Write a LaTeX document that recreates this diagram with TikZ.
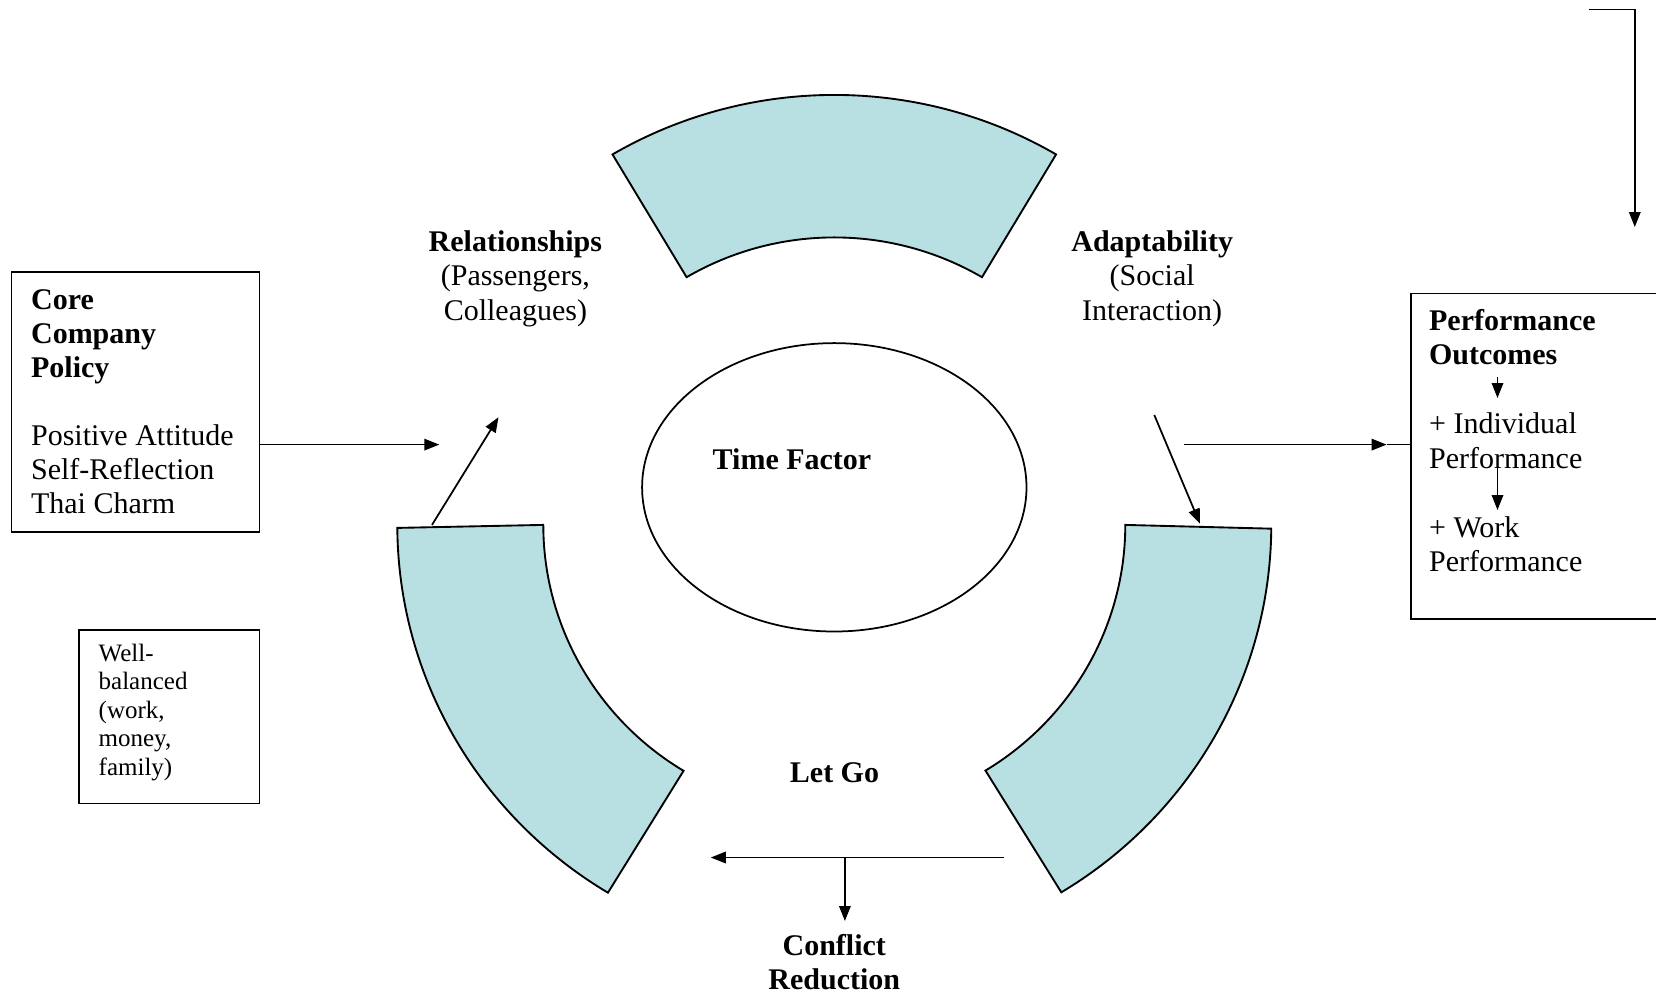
\documentclass[tikz,border=0pt]{standalone}
\usepackage{fontspec}
\setmainfont{Liberation Serif}
\usetikzlibrary{arrows.meta,calc}
\definecolor{segfill}{RGB}{184,223,226}
\begin{document}
\begin{tikzpicture}[x=0.4pt,y=-0.4pt,
  seg/.style={draw=black, line width=0.75pt, fill=segfill},
  box/.style={draw=black, line width=0.7pt, inner sep=0pt},
  conn/.style={line width=0.7pt, -{Triangle[length=6pt,width=4.6pt]}},
  plain/.style={line width=0.7pt},
  txt/.style={inner sep=0pt, font=\fontsize{12}{13.8}\selectfont},
  coretxtstyle/.style={inner sep=0pt, font=\fontsize{12}{13.6}\selectfont},
  small/.style={inner sep=0pt, font=\fontsize{10}{11.4}\selectfont},
]
\useasboundingbox (0,0) rectangle (1656,996);
\fill[white] (0,0) rectangle (1656,996);

% ring segments (slightly elliptical block arcs)
\coordinate (C) at (834.3,524.9);
\draw[seg] ($(C)+(239.5:437 and 430)$) arc[start angle=239.5,end angle=300.5,x radius=437,y radius=430]
  -- ($(C)+(300.5:291 and 287.5)$) arc[start angle=300.5,end angle=239.5,x radius=291,y radius=287.5] -- cycle;
\draw[seg] ($(C)+(0.5:437 and 430)$) arc[start angle=0.5,end angle=58.7,x radius=437,y radius=430]
  -- ($(C)+(58.7:291 and 287.5)$) arc[start angle=58.7,end angle=0,x radius=291,y radius=287.5] -- cycle;
\draw[seg] ($(C)+(121.2:437 and 430)$) arc[start angle=121.2,end angle=179.6,x radius=437,y radius=430]
  -- ($(C)+(180:291 and 287.5)$) arc[start angle=180,end angle=121.2,x radius=291,y radius=287.5] -- cycle;

% central ellipse
\draw[line width=0.7pt] (834.3,487.3) ellipse [x radius=192.2, y radius=144.2];

% labels (anchor = baseline of last line)
\node[txt, anchor=base, align=center] (rel) at (515.4,320) {\textbf{Relationships}\\(Passengers,\\Colleagues)};
\node[txt, anchor=base, align=center] (adapt) at (1152.2,320) {\textbf{Adaptability}\\(Social\\Interaction)};
\node[txt, anchor=base] (time) at (792,469) {\textbf{Time Factor}};
\node[txt, anchor=base] (letgo) at (834.5,782) {\textbf{Let Go}};
\node[txt, anchor=base, align=center] (conf) at (834.3,989.5) {\textbf{Conflict}\\\textbf{Reduction}};

% core company policy box
\node[box, anchor=north west, minimum width=99.24pt, minimum height=103.92pt] (core) at (10.6,271.4) {};
\node[coretxtstyle, anchor=base west, align=left] (coretxt) at (30.6,513)
  {\textbf{Core}\\\textbf{Company}\\\textbf{Policy}\\[13.6pt]Positive Attitude\\Self-Reflection\\Thai Charm};

% well-balanced box
\node[box, anchor=north west, minimum width=72.2pt, minimum height=69.28pt] (well) at (78.2,629.4) {};
\node[small, anchor=base west, align=left] (welltxt) at (98.2,775)
  {Well-\\balanced\\(work,\\money,\\family)};

% performance outcomes box
\node[box, anchor=north west, minimum width=104pt, minimum height=130.1pt] (perf) at (1409.9,292.5) {};
\node[txt, anchor=base west, align=left] (perftxt) at (1428.6,571.5)
  {\textbf{Performance}\\\textbf{Outcomes}\\[13.8pt]+ Individual\\Performance\\[13.8pt]+ Work\\Performance};

% coordinates for free connector ends
\coordinate (c1) at (439.3,444.6);
\coordinate (l1) at (432,524.9);
\coordinate (l2) at (498.5,417.2);
\coordinate (r1) at (1154.3,415);
\coordinate (r2) at (1200,523.8);
\coordinate (h1) at (1184,444.6);
\coordinate (h2) at (1386.6,444.6);
\coordinate (b1) at (1004.3,857.5);
\coordinate (b2) at (710.8,857.5);
\coordinate (b3) at (844.9,857.5);
\coordinate (b4) at (844.9,921);
\coordinate (t1) at (1589.4,9.5);
\coordinate (t2) at (1634.8,227);
\coordinate (p1) at (1497.5,377);
\coordinate (p2) at (1497.5,398);
\coordinate (p3) at (1497.5,466.8);
\coordinate (p4) at (1497.5,510);

% connectors
\draw[conn] (core.east |- c1) -- (c1);
\draw[conn] (l1) -- (l2);
\draw[conn] (r1) -- (r2);
\draw[conn] (h1) -- (h2);
\draw[plain] (h2) -- (perf.west |- h2);
\draw[conn] (b1) -- (b2);
\draw[conn] (b3) -- (b4);
\draw[conn] (t1) -| (t2);
\draw[conn] (p1) -- (p2);
\draw[conn] (p3) -- (p4);
\end{tikzpicture}
\end{document}
